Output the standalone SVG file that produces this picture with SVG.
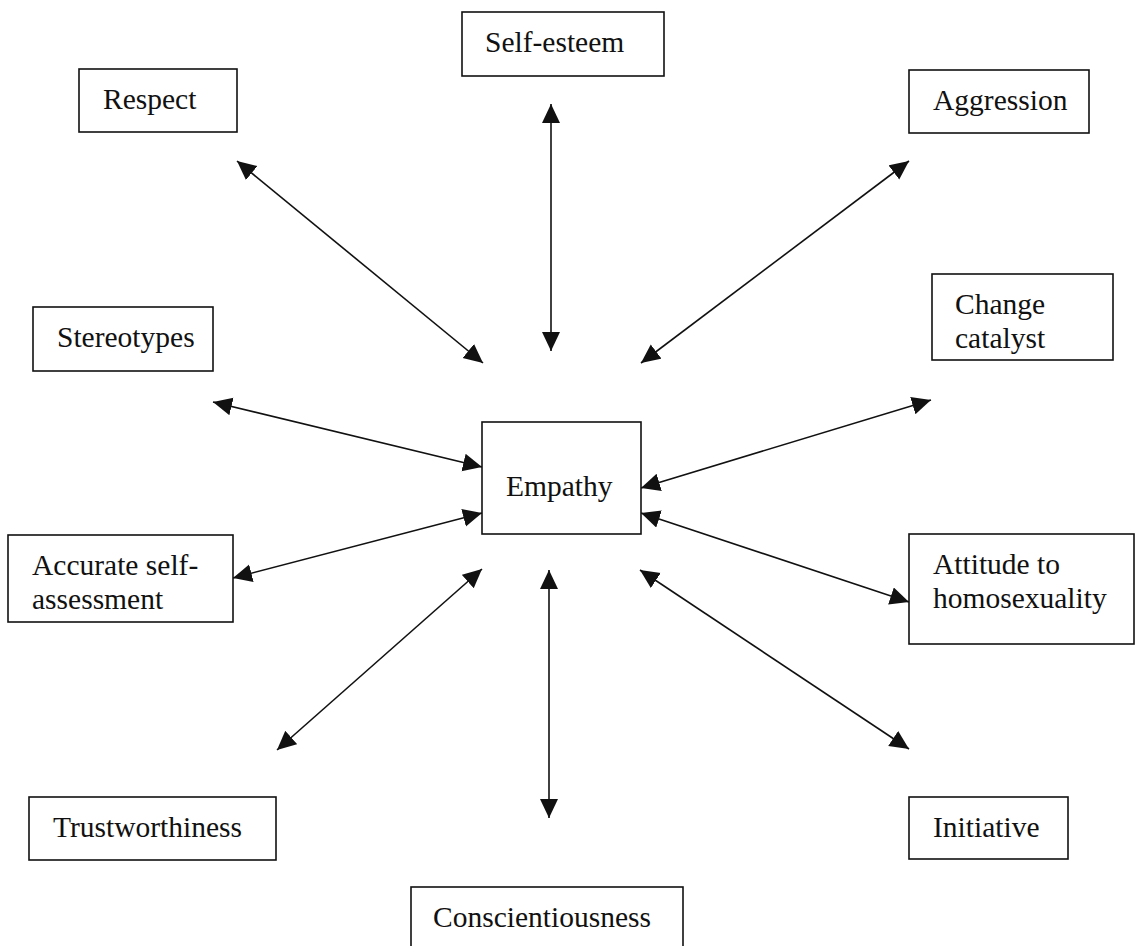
<svg xmlns="http://www.w3.org/2000/svg" width="1136" height="946" viewBox="0 0 1136 946">
<style>
.box{fill:#fff;stroke:#111;stroke-width:1.6}
.lbl{font-family:"Liberation Serif","Times New Roman",serif;font-size:29.5px;fill:#111}
.conn{stroke:#111;stroke-width:1.6;fill:none;marker-start:url(#ah);marker-end:url(#ah)}
</style>
<defs>
<marker id="ah" markerUnits="userSpaceOnUse" markerWidth="20" markerHeight="20" refX="19" refY="9" orient="auto-start-reverse">
<path d="M0,0 L19,9 L0,18 z" fill="#111"/>
</marker>
</defs>
<rect width="1136" height="946" fill="#fff"/>
<g id="connectors">
<line class="conn" x1="237" y1="161" x2="483" y2="363"/>
<line class="conn" x1="551" y1="104" x2="551" y2="351"/>
<line class="conn" x1="909" y1="161" x2="641" y2="363"/>
<line class="conn" x1="931" y1="400" x2="641" y2="488"/>
<line class="conn" x1="213" y1="402" x2="482" y2="467"/>
<line class="conn" x1="233" y1="578" x2="482" y2="513"/>
<line class="conn" x1="641" y1="513" x2="909" y2="602"/>
<line class="conn" x1="482" y1="569" x2="277" y2="750"/>
<line class="conn" x1="549" y1="570" x2="549" y2="818"/>
<line class="conn" x1="640" y1="570" x2="909" y2="749"/>
</g>
<g id="empathy"><rect class="box" x="482" y="422" width="159" height="112"/><text class="lbl" x="506" y="496">Empathy</text></g>
<g id="respect"><rect class="box" x="79" y="69" width="158" height="63"/><text class="lbl" x="103" y="109">Respect</text></g>
<g id="self-esteem"><rect class="box" x="462" y="12" width="202" height="64"/><text class="lbl" x="485" y="52">Self-esteem</text></g>
<g id="aggression"><rect class="box" x="909" y="70" width="180" height="63"/><text class="lbl" x="933" y="110">Aggression</text></g>
<g id="change-catalyst"><rect class="box" x="932" y="274" width="181" height="86"/><text class="lbl" x="955" y="314">Change</text><text class="lbl" x="955" y="348">catalyst</text></g>
<g id="stereotypes"><rect class="box" x="33" y="307" width="180" height="64"/><text class="lbl" x="57" y="347">Stereotypes</text></g>
<g id="accurate-self-assessment"><rect class="box" x="8" y="535" width="225" height="87"/><text class="lbl" x="32" y="575">Accurate self-</text><text class="lbl" x="32" y="609">assessment</text></g>
<g id="attitude"><rect class="box" x="909" y="534" width="225" height="110"/><text class="lbl" x="933" y="574">Attitude to</text><text class="lbl" x="933" y="608">homosexuality</text></g>
<g id="trustworthiness"><rect class="box" x="29" y="797" width="247" height="63"/><text class="lbl" x="53" y="837">Trustworthiness</text></g>
<g id="initiative"><rect class="box" x="909" y="797" width="159" height="62"/><text class="lbl" x="933" y="837">Initiative</text></g>
<g id="conscientiousness"><rect class="box" x="411" y="887" width="272" height="70"/><text class="lbl" x="433" y="927">Conscientiousness</text></g>
</svg>
